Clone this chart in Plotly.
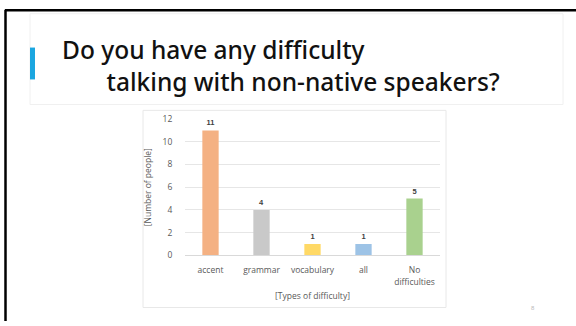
import plotly.graph_objects as go

# Survey results: types of difficulty when talking with non-native speakers
categories = ["accent", "grammar", "vocabulary", "all", "No<br>difficulties"]
counts = [11, 4, 1, 1, 5]
bar_colors = ["#F4B183", "#C9C9C9", "#FFD966", "#9DC3E6", "#A9D18E"]
y_ticks = [0, 2, 4, 6, 8, 10, 12]

W, H = 576, 326

def px_x(v):
    return v / W

def px_y(v):
    return 1 - v / H

TICK_FONT = dict(size=8.5, color="#595959", family="Open Sans")

fig = go.Figure()
fig.add_trace(go.Bar(
    x=categories,
    y=counts,
    marker=dict(color=bar_colors, line=dict(width=0)),
    width=0.32,
    text=[str(c) for c in counts],
    textposition="outside",
    textfont=dict(size=7.5, color="#404040", family="Liberation Sans", weight="bold"),
    cliponaxis=False,
    hoverinfo="skip",
))

fig.update_layout(
    width=W, height=H,
    margin=dict(l=0, r=0, t=0, b=0),
    paper_bgcolor="white",
    plot_bgcolor="white",
    showlegend=False,
    font=dict(family="Open Sans", color="#595959"),
    xaxis=dict(
        domain=[px_x(185), px_x(440)],
        anchor="y",
        showgrid=False,
        showline=True, linecolor="#D9D9D9", linewidth=1,
        ticks="outside", ticklen=7, tickcolor="rgba(0,0,0,0)",
        tickfont=TICK_FONT,
        title=dict(text="[Types of difficulty]", font=dict(size=8.5, color="#595959"), standoff=7),
        fixedrange=True,
    ),
    yaxis=dict(
        domain=[px_y(258), px_y(117)],
        range=[0, 12],
        tickvals=y_ticks,
        showgrid=True, gridcolor="#E6E6E6", gridwidth=1,
        zeroline=False,
        showline=False,
        ticks="outside", ticklen=10, tickcolor="rgba(0,0,0,0)",
        tickfont=TICK_FONT,
        title=dict(text="[Number of people]", font=dict(size=8.5, color="#595959"), standoff=9),
        fixedrange=True,
    ),
)

shapes = []
# slide frame: dark edge on top and left
shapes.append(dict(type="line", xref="paper", yref="paper",
                   x0=px_x(5), x1=1.0, y0=px_y(4.5), y1=px_y(4.5),
                   line=dict(color="black", width=2.5)))
shapes.append(dict(type="line", xref="paper", yref="paper",
                   x0=px_x(5.5), x1=px_x(5.5), y0=px_y(4), y1=0,
                   line=dict(color="black", width=2.5)))
# heading panel
shapes.append(dict(type="rect", xref="paper", yref="paper",
                   x0=px_x(30), x1=px_x(563), y0=px_y(102), y1=px_y(8),
                   line=dict(color="#F0F0F0", width=1), fillcolor="rgba(0,0,0,0)"))
# blue accent bar beside heading
shapes.append(dict(type="rect", xref="paper", yref="paper",
                   x0=px_x(30), x1=px_x(35), y0=px_y(76), y1=px_y(43),
                   line=dict(width=0), fillcolor="#1BA6E0"))
# chart panel
shapes.append(dict(type="rect", xref="paper", yref="paper",
                   x0=px_x(143), x1=px_x(446), y0=px_y(312), y1=px_y(108),
                   line=dict(color="#E8E8E8", width=1), fillcolor="rgba(0,0,0,0)"))
fig.update_layout(shapes=shapes)

# two-line heading, second line indented with non-breaking spaces
indent = "\u00a0" * 7
heading = "Do you have any difficulty<br>" + indent + "talking with non-native speakers?"
TITLE_FONT = dict(size=24.5, color="#111111", family="Noto Sans", weight=500)
annotations = [
    dict(text=heading, xref="paper", yref="paper",
         x=px_x(60), y=px_y(62), xanchor="left", yanchor="middle", align="left",
         showarrow=False, font=TITLE_FONT),
    dict(text="8", xref="paper", yref="paper",
         x=px_x(533), y=px_y(313), xanchor="center", yanchor="middle", showarrow=False,
         font=dict(size=6, color="#BBBBBB", family="Liberation Sans")),
]
fig.update_layout(annotations=annotations)

fig.write_html("out.html")
